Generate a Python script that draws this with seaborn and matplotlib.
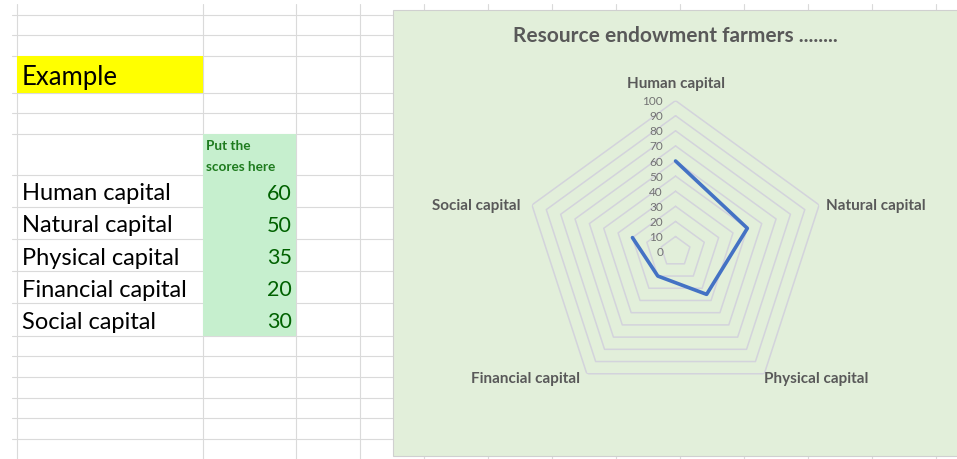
import numpy as np
import matplotlib
matplotlib.use('Agg')
import matplotlib.pyplot as plt
import seaborn as sns
from matplotlib.patches import Rectangle

# data
categories = ['Human capital', 'Natural capital', 'Physical capital', 'Financial capital', 'Social capital']
scores = [60, 50, 35, 20, 30]
radial_ticks = [0, 10, 20, 30, 40, 50, 60, 70, 80, 90, 100]
title = 'Resource endowment farmers ........'

# sheet layout (pixels)
col_lines = [17, 203, 296, 360, 424, 488, 552, 616, 680, 744, 808, 872, 936]
row_lines = [15.7, 36.3, 57.3, 93.7, 114.3, 135, 176.3, 208.3, 240, 272.3, 304.3, 336.7,
             357.3, 378.3, 399, 419.3, 440.3]
first_row_top = 176.3
row_h = 32.1

sns.set_theme(style='white')
plt.rcParams['font.family'] = ['Lato', 'DejaVu Sans']

fig = plt.figure(figsize=(9.57, 4.6), dpi=100)
bg = fig.add_axes([0, 0, 1, 1])
bg.set_xlim(0, 957)
bg.set_ylim(460, 0)
bg.axis('off')

grid_c = '#dadada'
for y in row_lines:
    bg.plot([12, 957], [y, y], color=grid_c, lw=0.8, zorder=1)
for x in col_lines:
    bg.plot([x, x], [5, 460], color=grid_c, lw=0.8, zorder=1)

# yellow "Example" cell
bg.add_patch(Rectangle((17, 57.3), 186, 36.4, facecolor='#ffff00', edgecolor='none', zorder=2))
bg.text(22, 77, 'Example', fontsize=18.5, va='center', ha='left', color='black', zorder=3)

# green score cells
bg.add_patch(Rectangle((203, 135), 93, 201.7, facecolor='#c6efce', edgecolor='none', zorder=2))
bg.text(206, 146, 'Put the', fontsize=9.8, fontweight='bold', color='#1e7b1e', va='center', zorder=3)
bg.text(206, 167, 'scores here', fontsize=9.8, fontweight='bold', color='#1e7b1e', va='center', zorder=3)
for i, (cat, val) in enumerate(zip(categories, scores)):
    yc = first_row_top + row_h * (i + 0.5) + 1.5
    bg.text(22, yc, cat, fontsize=17, va='center', ha='left', color='black', zorder=3)
    bg.text(292, yc, str(val), fontsize=15.5, va='center', ha='right', color='#006100', zorder=3)

# chart area
bg.add_patch(Rectangle((392.5, 11), 570, 446, facecolor='#e2efda', edgecolor='#d0d0d0', lw=0.8, zorder=4))
bg.text(675, 36, title, fontsize=15, fontweight='bold', color='#595959', ha='center', va='center', zorder=5)

# radar
ax = fig.add_axes([0.5481, 0.1226, 0.3156, 0.6565], projection='polar')
ax.set_zorder(6)
ax.set_facecolor('none')
ax.set_theta_zero_location('N')
ax.set_theta_direction(-1)
ax.spines['polar'].set_visible(False)
ax.grid(False)
ax.set_xticks([])
ax.set_yticks([])

angles = np.linspace(0, 2 * np.pi, len(categories), endpoint=False)
closed_angles = np.append(angles, angles[0])

for lvl in radial_ticks[1:]:
    ax.plot(closed_angles, [lvl] * len(closed_angles), color='#d3d3dc', lw=1.1, zorder=1)

closed_scores = scores + scores[:1]
sns.lineplot(x=closed_angles, y=closed_scores, ax=ax, sort=False, color='#4472c4', lw=2.6, zorder=3)
ax.set_ylim(0, 100)
ax.set_xlabel('')
ax.set_ylabel('')

for t in radial_ticks:
    ax.annotate(str(t), xy=(0, t), xytext=(-9, 0), textcoords='offset points',
                ha='right', va='center', fontsize=8.5, color='#737373', zorder=4)

label_style = {
    'Human capital': ((0, 13), 'center', 'center'),
    'Natural capital': ((5, 0), 'left', 'center'),
    'Physical capital': ((0, -3), 'left', 'center'),
    'Financial capital': ((-5, -3), 'right', 'center'),
    'Social capital': ((-8, 0), 'right', 'center'),
}
for ang, cat in zip(angles, categories):
    off, ha, va = label_style[cat]
    ax.annotate(cat, xy=(ang, 100), xytext=off, textcoords='offset points',
                ha=ha, va=va, fontsize=11, fontweight='bold', color='#595959',
                annotation_clip=False)

fig.savefig('out.png', dpi=100)
